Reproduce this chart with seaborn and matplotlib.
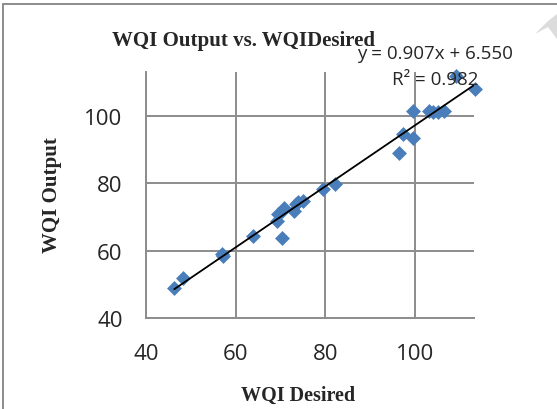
import numpy as np
import pandas as pd
import matplotlib
matplotlib.use('Agg')
import matplotlib.pyplot as plt
from matplotlib.lines import Line2D
from matplotlib.patches import Polygon
import seaborn as sns

# values
wqi_desired = [46.3, 48.3, 56.9, 57.2, 63.9, 69.1, 69.5, 70.3, 70.8, 70.3, 73.0, 73.4,
               74.0, 74.9, 79.5, 82.1, 96.3, 97.2, 99.5, 99.5, 103.2, 104.1, 105.2,
               106.4, 109.1, 113.3]
wqi_output = [48.9, 51.9, 59.1, 58.4, 64.5, 68.7, 70.9, 71.9, 72.6, 63.8, 71.9, 73.9,
              74.6, 74.9, 78.3, 79.8, 88.9, 94.6, 93.5, 101.5, 101.3, 101.0, 101.0,
              101.5, 111.9, 107.9]
x_ticks = [40, 60, 80, 100]
y_ticks = [40, 60, 80, 100]
eq_text = 'y = 0.907x + 6.550'
r2_text = 'R\u00b2 = 0.982'

df = pd.DataFrame({'desired': wqi_desired, 'output': wqi_output})

sns.set_style('white')
plt.rcParams['font.family'] = ['Open Sans', 'DejaVu Sans']

W, H = 557, 410
fig = plt.figure(figsize=(W / 100, H / 100), dpi=100)
ax = fig.add_axes([146 / W, 1 - 319.3 / H, (474.3 - 146) / W, (319.3 - 73.3) / H])

# trendline over the data range
slope, intercept = np.polyfit(df['desired'], df['output'], 1)
xs = np.array([df['desired'].min(), df['desired'].max()])
ax.plot(xs, slope * xs + intercept, color='black', lw=1.3, zorder=3)

sns.scatterplot(data=df, x='desired', y='output', marker='D', s=50, color='#4a7ebb',
                edgecolor='#4a7ebb', linewidth=0.5, ax=ax, zorder=2, clip_on=False)

ax.set_xlim(40, 113.2)
ax.set_ylim(40, 112.9)
ax.set_xticks(x_ticks)
ax.set_yticks(y_ticks)
ax.grid(True, color='#8c8c8c', lw=1.4)
ax.set_axisbelow(True)
for side in ['top', 'right']:
    ax.spines[side].set_visible(False)
for side in ['left', 'bottom']:
    ax.spines[side].set_color('#8c8c8c')
    ax.spines[side].set_linewidth(1.4)
ax.tick_params(axis='both', length=5.8, width=1.4, color='#8c8c8c', labelsize=16,
               direction='out')
ax.tick_params(axis='x', pad=12)
ax.tick_params(axis='y', pad=11)

ax.set_xlabel('WQI Desired', fontsize=14.5, fontweight='bold', family='Liberation Serif')
ax.set_ylabel('WQI Output', fontsize=15, fontweight='bold', family='Liberation Serif')
ax.xaxis.set_label_coords((298 - 146) / 328.3, (319.3 - 396) / 246)
ax.yaxis.set_label_coords((52 - 146) / 328.3, (319.3 - 195) / 246)
ax.xaxis.label.set_va('center')
ax.yaxis.label.set_va('center')

fig.text(243.5 / W, 1 - 41 / H, 'WQI Output vs. WQIDesired', ha='center', va='center',
         fontsize=15, fontweight='bold', family='Liberation Serif')
fig.text(435 / W, 1 - 54 / H, eq_text, ha='center', va='center', fontsize=13.5)
fig.text(435 / W, 1 - 80 / H, r2_text, ha='center', va='center', fontsize=13.5)

# outer chart border (left and top only visible in the reference)
fig.add_artist(Line2D([3 / W, 3 / W], [0, 1 - 5 / H], transform=fig.transFigure,
                      color='#8c8c8c', lw=1.4))
fig.add_artist(Line2D([3 / W, 1], [1 - 5 / H, 1 - 5 / H], transform=fig.transFigure,
                      color='#8c8c8c', lw=1.4))
# faint page-curl mark in the corner
fig.add_artist(Polygon([[535 / W, 1 - 35 / H], [548 / W, 1 - 22 / H], [557 / W, 1 - 15 / H],
                        [557 / W, 1 - 40 / H], [548 / W, 1 - 28 / H]],
                       closed=True, transform=fig.transFigure, color='#dcdcdc', lw=0))

fig.savefig('out.png', dpi=100)
